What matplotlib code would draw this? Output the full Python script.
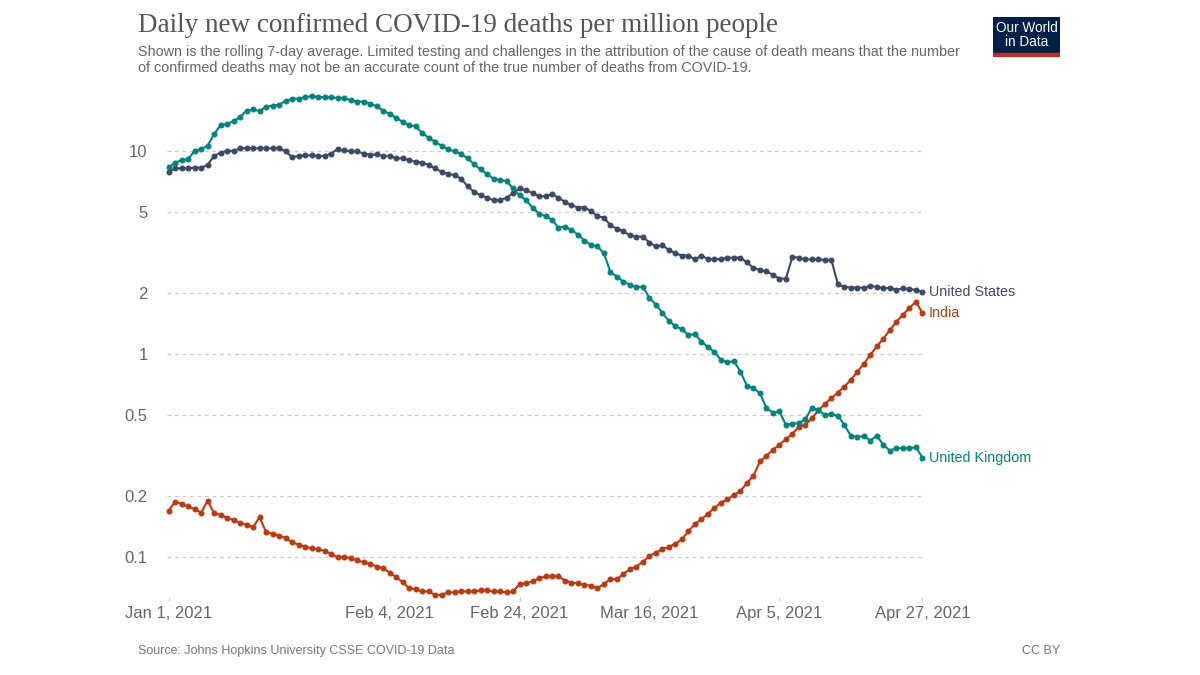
import numpy as np
import pandas as pd
import matplotlib
matplotlib.use("Agg")
from matplotlib import pyplot as plt
import matplotlib.dates as mdates
from matplotlib.ticker import FixedLocator, NullLocator, FixedFormatter

# daily values, Jan 1 2021 .. Apr 27 2021 (117 days)
start = "2021-01-01"
days = pd.date_range(start, "2021-04-27", freq="D")

united_states = [
    7.87, 8.2, 8.2, 8.2, 8.27, 8.27, 8.53, 9.44, 9.8, 10.0,
    10.0, 10.3, 10.3, 10.3, 10.3, 10.3, 10.3, 10.3, 9.97, 9.3,
    9.44, 9.5, 9.5, 9.44, 9.44, 9.7, 10.2, 10.05, 9.95, 9.95,
    9.7, 9.55, 9.6, 9.44, 9.44, 9.2, 9.2, 9.0, 8.85, 8.75,
    8.53, 8.2, 7.9, 7.7, 7.6, 7.3, 6.7, 6.28, 6.05, 5.89,
    5.71, 5.71, 5.89, 6.17, 6.53, 6.4, 6.2, 5.98, 5.98, 6.12,
    5.89, 5.6, 5.4, 5.26, 5.26, 5.06, 4.76, 4.69, 4.3, 4.13,
    4.02, 3.83, 3.78, 3.78, 3.53, 3.38, 3.42, 3.25, 3.13, 3.05,
    3.05, 2.92, 3.05, 2.93, 2.93, 2.93, 2.98, 2.98, 2.98, 2.82,
    2.65, 2.59, 2.55, 2.45, 2.35, 2.35, 3.01, 2.97, 2.92, 2.92,
    2.92, 2.9, 2.9, 2.2, 2.14, 2.12, 2.12, 2.12, 2.16, 2.14,
    2.1, 2.12, 2.07, 2.1, 2.08, 2.07, 2.02,
]

united_kingdom = [
    8.3, 8.75, 9.0, 9.1, 10.0, 10.2, 10.6, 12.1, 13.4, 13.6,
    14.0, 14.7, 15.8, 16.0, 15.7, 16.5, 16.7, 16.9, 17.6, 18.1,
    18.1, 18.4, 18.6, 18.4, 18.4, 18.4, 18.2, 18.2, 17.8, 17.5,
    17.5, 17.1, 16.6, 15.8, 15.2, 14.6, 13.9, 13.4, 13.2, 12.3,
    11.6, 11.1, 10.6, 10.2, 9.93, 9.66, 9.2, 8.6, 8.1, 7.7,
    7.3, 7.18, 7.1, 6.53, 6.05, 5.71, 5.26, 4.91, 4.76, 4.58,
    4.18, 4.24, 4.08, 3.87, 3.61, 3.45, 3.38, 3.13, 2.52, 2.4,
    2.27, 2.19, 2.14, 2.14, 1.88, 1.75, 1.59, 1.45, 1.37, 1.32,
    1.24, 1.25, 1.15, 1.08, 1.02, 0.935, 0.91, 0.92, 0.818, 0.696,
    0.677, 0.64, 0.54, 0.514, 0.52, 0.447, 0.452, 0.456, 0.477, 0.544,
    0.526, 0.501, 0.506, 0.495, 0.447, 0.394, 0.389, 0.394, 0.374, 0.395,
    0.356, 0.334, 0.343, 0.343, 0.343, 0.347, 0.308,
]

india = [
    0.169, 0.187, 0.182, 0.177, 0.172, 0.165, 0.189, 0.164, 0.161, 0.155,
    0.152, 0.147, 0.144, 0.14, 0.157, 0.132, 0.13, 0.127, 0.124, 0.118,
    0.115, 0.112, 0.11, 0.109, 0.107, 0.103, 0.1, 0.1, 0.0985, 0.096,
    0.094, 0.0925, 0.0896, 0.088, 0.0837, 0.0794, 0.0752, 0.0701, 0.0693, 0.0675,
    0.0675, 0.065, 0.065, 0.0668, 0.0668, 0.0675, 0.0675, 0.0675, 0.0683, 0.0683,
    0.0675, 0.0675, 0.0668, 0.0675, 0.0733, 0.0742, 0.0756, 0.0785, 0.08, 0.0803,
    0.0803, 0.0764, 0.0747, 0.0742, 0.0728, 0.072, 0.07, 0.0736, 0.0776, 0.0776,
    0.0825, 0.087, 0.0896, 0.0948, 0.101, 0.105, 0.109, 0.112, 0.116, 0.122,
    0.134, 0.145, 0.153, 0.163, 0.174, 0.185, 0.192, 0.202, 0.211, 0.231,
    0.251, 0.295, 0.315, 0.337, 0.356, 0.38, 0.404, 0.438, 0.447, 0.482,
    0.526, 0.567, 0.605, 0.645, 0.69, 0.745, 0.818, 0.893, 0.99, 1.09,
    1.19, 1.31, 1.44, 1.56, 1.68, 1.81, 1.59,
]

yticks = [0.1, 0.2, 0.5, 1, 2, 5, 10]
ytick_labels = ["0.1", "0.2", "0.5", "1", "2", "5", "10"]
xtick_dates = ["2021-01-01", "2021-02-04", "2021-02-24", "2021-03-16", "2021-04-05", "2021-04-27"]
xtick_labels = ["Jan 1, 2021", "Feb 4, 2021", "Feb 24, 2021", "Mar 16, 2021", "Apr 5, 2021", "Apr 27, 2021"]

series = [
    ("United States", united_states, "#3d4a66"),
    ("India", india, "#bd3a10"),
    ("United Kingdom", united_kingdom, "#00847e"),
]

plt.rcParams["font.family"] = ["Liberation Sans", "DejaVu Sans"]
grey = "#666666"

W, H = 1200, 675
fig = plt.figure(figsize=(12, 6.75), dpi=100)
fig.patch.set_facecolor("white")

# axes placed in pixel terms: x 167..924, y 90..597
ax = fig.add_axes([167 / W, 1 - 597 / H, (924 - 167) / W, (597 - 90) / H])
ax.set_yscale("log")
ax.set_ylim(0.0634, 19.95)
pad = pd.Timedelta(hours=6)
ax.set_xlim(days[0] - pad, days[-1] + pad)

for name, vals, col in series:
    ax.plot(days, vals, color=col, lw=1.5, marker="o", ms=3.3, clip_on=False, zorder=3)
    ax.annotate(name, xy=(days[-1], vals[-1]), xytext=(4.5, 0), textcoords="offset points",
                va="center", ha="left", color=col, fontsize=10.3)

ax.yaxis.set_major_locator(FixedLocator(yticks))
ax.yaxis.set_major_formatter(FixedFormatter(ytick_labels))
ax.yaxis.set_minor_locator(NullLocator())
ax.grid(axis="y", color="#cccccc", ls=(0, (3, 3)), lw=0.9)
ax.tick_params(axis="y", length=0, labelsize=12, labelcolor=grey, pad=14)

ax.set_xticks(pd.to_datetime(xtick_dates))
ax.set_xticklabels(xtick_labels)
ax.tick_params(axis="x", length=3, color="#cccccc", labelsize=12, labelcolor=grey, pad=3.5)
ax.xaxis.set_minor_locator(NullLocator())

for s in ax.spines.values():
    s.set_visible(False)

# titles
fig.text(138 / W, 1 - 26 / H, "Daily new confirmed COVID-19 deaths per million people",
         family=["Liberation Serif", "DejaVu Serif"], fontsize=19.5, color="#555555", va="center")
fig.text(138 / W, 1 - 45 / H,
         "Shown is the rolling 7-day average. Limited testing and challenges in the attribution of the cause of death means that the number\n"
         "of confirmed deaths may not be an accurate count of the true number of deaths from COVID-19.",
         fontsize=10.4, color=grey, va="top", linespacing=1.2)

fig.text(138 / W, 1 - 651 / H, "Source: Johns Hopkins University CSSE COVID-19 Data",
         fontsize=9, color="#777777", va="center")
fig.text(1060 / W, 1 - 651 / H, "CC BY", fontsize=9, color="#777777", va="center", ha="right")

# logo
logo = fig.add_axes([993 / W, 1 - 57 / H, 67 / W, 40 / H])
logo.set_xlim(0, 1)
logo.set_ylim(0, 1)
logo.axis("off")
logo.add_patch(plt.Rectangle((0, 0.09), 1, 0.91, color="#002147"))
logo.add_patch(plt.Rectangle((0, 0), 1, 0.1, color="#ce261e"))
logo.text(0.5, 0.56, "Our World\nin Data", color="white", ha="center", va="center",
          fontsize=9.8, linespacing=1.0)

fig.savefig("out.png", dpi=100, facecolor="white")
